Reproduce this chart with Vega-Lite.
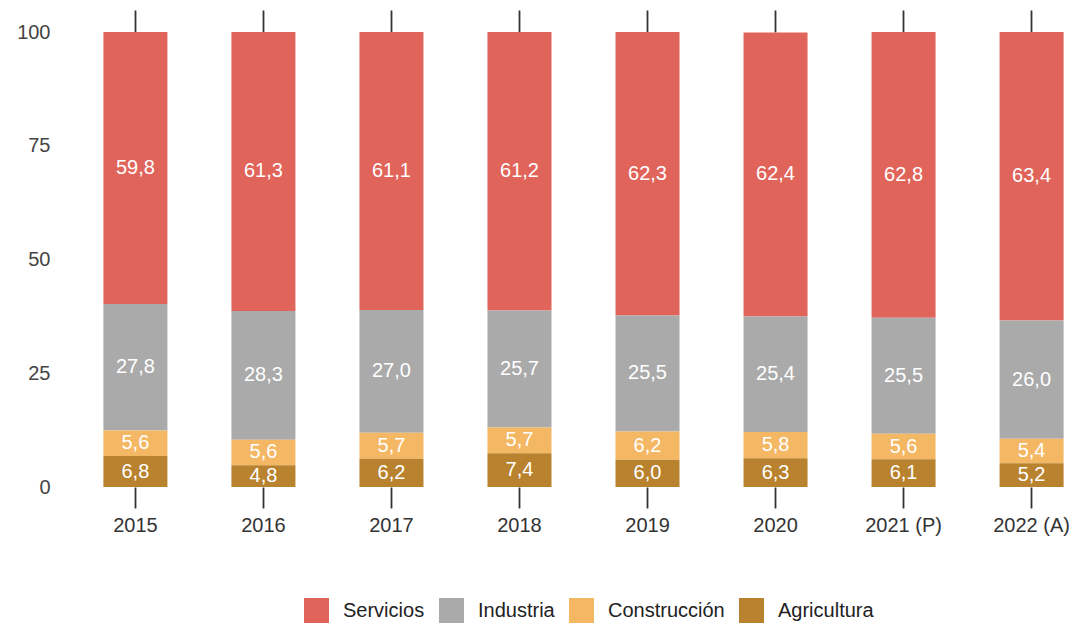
{
  "$schema": "https://vega.github.io/schema/vega-lite/v6.json",
  "width": 973,
  "height": 455,
  "autosize": "none",
  "padding": {"left": 97, "top": 32, "right": 1, "bottom": 140},
  "config": {
    "locale": {"number": {"decimal": ",", "thousands": ".", "grouping": [3], "currency": ["", " €"]}},
    "view": {"stroke": null},
    "font": "Liberation Sans",
    "legend": {"padding": 0}
  },
  "data": {
    "values": [
      {"anio": "2015", "sector": "Servicios", "valor": 59.8},
      {"anio": "2015", "sector": "Industria", "valor": 27.8},
      {"anio": "2015", "sector": "Construcción", "valor": 5.6},
      {"anio": "2015", "sector": "Agricultura", "valor": 6.8},
      {"anio": "2016", "sector": "Servicios", "valor": 61.3},
      {"anio": "2016", "sector": "Industria", "valor": 28.3},
      {"anio": "2016", "sector": "Construcción", "valor": 5.6},
      {"anio": "2016", "sector": "Agricultura", "valor": 4.8},
      {"anio": "2017", "sector": "Servicios", "valor": 61.1},
      {"anio": "2017", "sector": "Industria", "valor": 27.0},
      {"anio": "2017", "sector": "Construcción", "valor": 5.7},
      {"anio": "2017", "sector": "Agricultura", "valor": 6.2},
      {"anio": "2018", "sector": "Servicios", "valor": 61.2},
      {"anio": "2018", "sector": "Industria", "valor": 25.7},
      {"anio": "2018", "sector": "Construcción", "valor": 5.7},
      {"anio": "2018", "sector": "Agricultura", "valor": 7.4},
      {"anio": "2019", "sector": "Servicios", "valor": 62.3},
      {"anio": "2019", "sector": "Industria", "valor": 25.5},
      {"anio": "2019", "sector": "Construcción", "valor": 6.2},
      {"anio": "2019", "sector": "Agricultura", "valor": 6.0},
      {"anio": "2020", "sector": "Servicios", "valor": 62.4},
      {"anio": "2020", "sector": "Industria", "valor": 25.4},
      {"anio": "2020", "sector": "Construcción", "valor": 5.8},
      {"anio": "2020", "sector": "Agricultura", "valor": 6.3},
      {"anio": "2021 (P)", "sector": "Servicios", "valor": 62.8},
      {"anio": "2021 (P)", "sector": "Industria", "valor": 25.5},
      {"anio": "2021 (P)", "sector": "Construcción", "valor": 5.6},
      {"anio": "2021 (P)", "sector": "Agricultura", "valor": 6.1},
      {"anio": "2022 (A)", "sector": "Servicios", "valor": 63.4},
      {"anio": "2022 (A)", "sector": "Industria", "valor": 26.0},
      {"anio": "2022 (A)", "sector": "Construcción", "valor": 5.4},
      {"anio": "2022 (A)", "sector": "Agricultura", "valor": 5.2}
    ]
  },
  "resolve": {"axis": {"x": "independent"}},
  "layer": [
    {
      "mark": {"type": "bar"},
      "encoding": {
        "x": {
          "field": "anio", "type": "nominal",
          "sort": ["2015", "2016", "2017", "2018", "2019", "2020", "2021 (P)", "2022 (A)"],
          "scale": {"paddingInner": 0.5, "paddingOuter": 0.05},
          "axis": {"orient": "bottom", "title": null, "labelAngle": 0, "domain": false, "tickSize": 21, "tickWidth": 1.8, "tickColor": "#333333", "labelFontSize": 20, "labelColor": "#333333", "labelPadding": 7}
        },
        "y": {
          "field": "valor", "type": "quantitative", "stack": "zero",
          "scale": {"domain": [0, 100], "nice": false},
          "axis": {"title": null, "values": [0, 25, 50, 75, 100], "ticks": false, "domain": false, "grid": false, "labelPadding": 47, "labelFontSize": 20, "labelColor": "#444444"}
        },
        "color": {
          "field": "sector", "type": "nominal",
          "scale": {"domain": ["Servicios", "Industria", "Construcción", "Agricultura"], "range": ["#E1645B", "#AAAAAA", "#F4B763", "#B9822E"]},
          "legend": {"title": null, "orient": "none", "legendX": 207, "legendY": 566, "direction": "horizontal", "symbolType": "square", "symbolSize": 625, "symbolStrokeWidth": 0, "symbolOpacity": 1, "labelFontSize": 20, "labelColor": "#222222", "labelOffset": 14, "columnPadding": 14}
        },
        "order": {"field": "sector", "sort": "ascending"}
      }
    },
    {
      "transform": [
        {"stack": "valor", "groupby": ["anio"], "sort": [{"field": "sector", "order": "ascending"}], "as": ["v0", "v1"]},
        {"fold": ["v0", "v1"], "as": ["extremo", "pos"]}
      ],
      "mark": {"type": "text", "color": "#FFFFFF", "fontSize": 20, "baseline": "middle"},
      "encoding": {
        "x": {
          "field": "anio", "type": "nominal",
          "sort": ["2015", "2016", "2017", "2018", "2019", "2020", "2021 (P)", "2022 (A)"],
          "axis": {"orient": "top", "title": null, "labels": false, "domain": false, "tickSize": 22, "tickWidth": 1.8, "tickColor": "#333333"}
        },
        "y": {"field": "pos", "type": "quantitative", "aggregate": "mean"},
        "text": {"field": "valor", "type": "quantitative", "format": ".1f"},
        "detail": {"field": "sector", "type": "nominal"}
      }
    }
  ]
}
